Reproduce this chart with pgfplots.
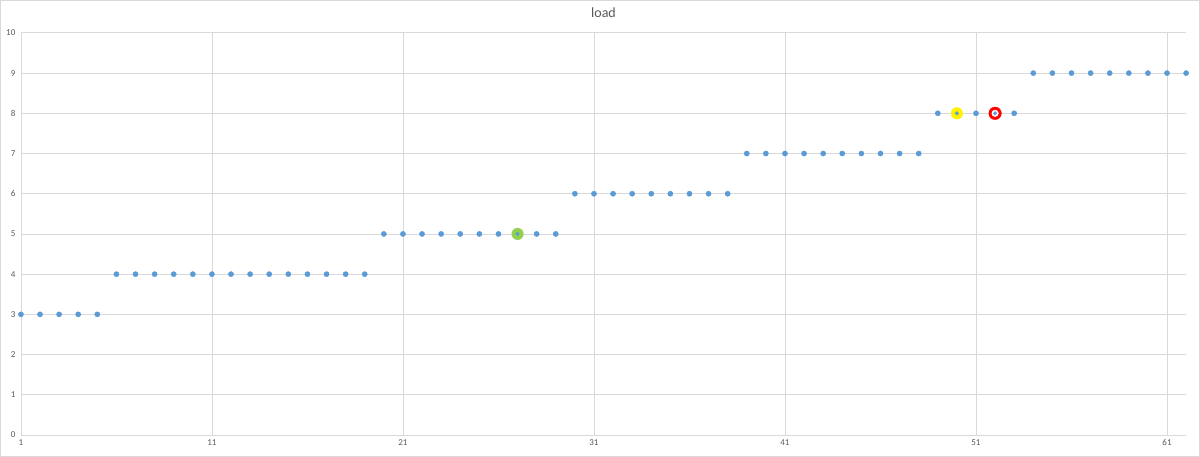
\documentclass[border=0pt]{standalone}
\usepackage{pgfplots}
\pgfplotsset{compat=1.18}
\usepackage{fontspec}
\setmainfont{Carlito}
\definecolor{pblue}{HTML}{5B9BD5}
\definecolor{gridc}{HTML}{D9D9D9}
\definecolor{tickc}{HTML}{595959}
\definecolor{pgreen}{HTML}{92D050}
\begin{document}
\begin{tikzpicture}
\begin{axis}[
  name=ax,
  scale only axis,
  width=1165pt, height=402pt,
  xmin=1, xmax=62, ymin=0, ymax=10,
  xtick={1,11,21,31,41,51,61},
  ytick={0,1,...,10},
  grid=major,
  major grid style={gridc, line width=0.8pt},
  axis line style={gridc, line width=0.8pt},
  axis x line*=bottom, axis y line*=left,
  tick style={draw=none},
  tick label style={font=\fontsize{9}{10}\selectfont, text=tickc},
  /pgf/number format/assume math mode=true,
  yticklabel style={xshift=-2pt},
  xticklabel style={yshift=-1pt},
  title={load},
  title style={font=\fontsize{14}{16}\selectfont, text=tickc, yshift=6pt},
  clip=false,
]
\addplot[only marks, color=pblue, mark=*, mark size=2.6pt, mark options={fill=pblue, draw=pblue, line width=0.4pt}] table {
x y
1 3
2 3
3 3
4 3
5 3
6 4
7 4
8 4
9 4
10 4
11 4
12 4
13 4
14 4
15 4
16 4
17 4
18 4
19 4
20 5
21 5
22 5
23 5
24 5
25 5
26 5
28 5
29 5
30 6
31 6
32 6
33 6
34 6
35 6
36 6
37 6
38 6
39 7
40 7
41 7
42 7
43 7
44 7
45 7
46 7
47 7
48 7
49 8
51 8
53 8
54 9
55 9
56 9
57 9
58 9
59 9
60 9
61 9
62 9
};
% highlighted points
\addplot[only marks, color=pgreen, mark=*, mark size=5.8pt, mark options={fill=pgreen, draw=pgreen, line width=0.4pt}] coordinates {(27,5)};
\addplot[only marks, color=yellow, mark=*, mark size=5.8pt, mark options={fill=yellow, draw=yellow, line width=0.4pt}] coordinates {(50,8)};
\addplot[only marks, color=red, mark=*, mark size=6.3pt, mark options={fill=red, draw=red, line width=0.4pt}] coordinates {(52,8)};
\addplot[only marks, color=white, mark=*, mark size=3.3pt, mark options={fill=white, draw=white, line width=0.4pt}] coordinates {(52,8)};
\addplot[only marks, color=pblue, mark=*, mark size=1.8pt, mark options={fill=pblue, draw=pblue, line width=0.4pt}] coordinates {(27,5) (50,8) (52,8)};
\end{axis}
\draw[gridc, line width=0.8pt] ([shift={(-20.5pt,-21.5pt)}]ax.south west) rectangle ([shift={(13.5pt,32.5pt)}]ax.north east);
\end{tikzpicture}
\end{document}
